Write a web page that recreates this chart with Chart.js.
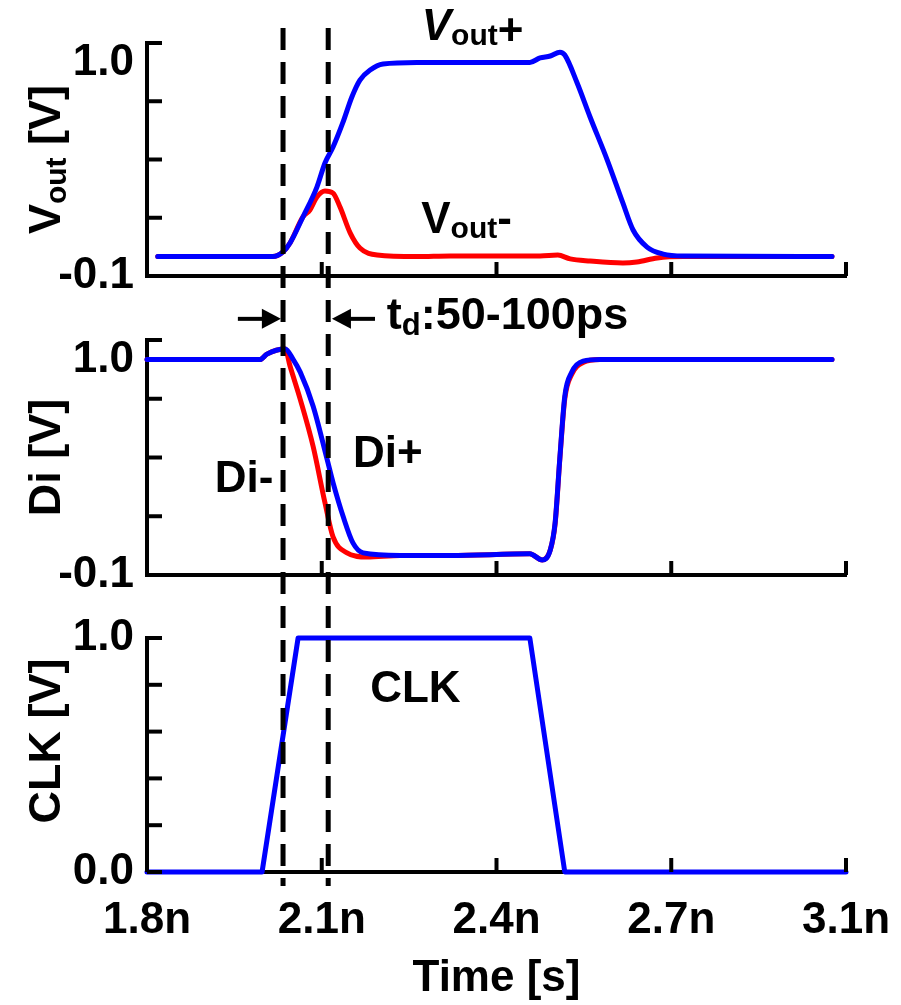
<!DOCTYPE html>
<html>
<head>
<meta charset="utf-8">
<script src="https://cdn.jsdelivr.net/npm/chart.js@4.4.1/dist/chart.umd.min.js"></script>
<style>
  html, body { margin: 0; padding: 0; background: #fff; }
  #wrap { position: relative; width: 901px; height: 1005px; }
  #wrap canvas { position: absolute; left: 0; top: 0; }
</style>
</head>
<body>
<div id="wrap">
  <canvas id="voutChart" width="901" height="1005"></canvas>
  <canvas id="diChart" width="901" height="1005"></canvas>
  <canvas id="clkChart" width="901" height="1005"></canvas>
</div>
<script>
// shared time axis (ns)
const xTickValues = [1.8, 2.125, 2.45, 2.775, 3.1];
const xTickLabels = ['1.8n', '2.1n', '2.4n', '2.7n', '3.1n'];
const markerTimes = [2.053, 2.137];

// Vout panel
const voutPlusT = [1.82, 2.034, 2.053, 2.066, 2.090, 2.116, 2.131, 2.146, 2.164, 2.181, 2.196, 2.215, 2.239, 2.302, 2.364, 2.512, 2.531, 2.550, 2.568, 2.577, 2.600, 2.624, 2.656, 2.685, 2.704, 2.730, 2.760, 2.797, 3.074];
const voutPlusV = [0, 0, 0.024, 0.07, 0.204, 0.358, 0.482, 0.564, 0.688, 0.822, 0.909, 0.961, 0.992, 1.0, 1.0, 1.0, 1.023, 1.033, 1.053, 1.038, 0.894, 0.719, 0.497, 0.276, 0.137, 0.049, 0.013, 0.003, 0];
const voutMinusT = [1.82, 2.034, 2.053, 2.066, 2.090, 2.103, 2.116, 2.131, 2.146, 2.159, 2.178, 2.196, 2.228, 2.302, 2.364, 2.531, 2.564, 2.587, 2.624, 2.685, 2.711, 2.749, 2.797, 3.074];
const voutMinusV = [0, 0, 0.024, 0.07, 0.204, 0.24, 0.307, 0.338, 0.327, 0.255, 0.121, 0.044, 0.008, 0, 0.003, 0.003, 0.008, -0.012, -0.023, -0.033, -0.028, -0.007, 0, 0];
const voutTicks = [-0.1, 0.2, 0.5, 0.8, 1.1];
const voutLabels = [-0.1, 1.0];

// Di panel
const diPlusT = [1.8, 2.010, 2.023, 2.057, 2.072, 2.085, 2.109, 2.135, 2.146, 2.165, 2.183, 2.202, 2.271, 2.364, 2.512, 2.535, 2.550, 2.559, 2.568, 2.577, 2.590, 2.611, 2.643, 3.074];
const diPlusV = [1.0, 1.0, 1.028, 1.054, 1.0, 0.936, 0.762, 0.49, 0.372, 0.197, 0.064, 0.013, 0, 0, 0.008, -0.023, 0.028, 0.167, 0.505, 0.813, 0.936, 0.992, 1.0, 1.0];
const diMinusT = [1.8, 2.010, 2.023, 2.057, 2.066, 2.085, 2.109, 2.131, 2.146, 2.172, 2.209, 2.271, 2.364, 2.512, 2.535, 2.550, 2.559, 2.568, 2.577, 2.590, 2.611, 2.643, 3.074];
const diMinusV = [1.0, 1.0, 1.028, 1.054, 0.967, 0.797, 0.556, 0.269, 0.095, 0.013, -0.008, 0, 0, 0.008, -0.023, 0.028, 0.16, 0.5, 0.80, 0.925, 0.985, 1.0, 1.0];
const diTicks = [-0.1, 0.2, 0.5, 0.8, 1.1];
const diLabels = [-0.1, 1.0];

// CLK panel
const clkT = [1.8, 2.014, 2.081, 2.512, 2.577, 3.1];
const clkV = [0, 0, 1, 1, 0, 0];
const clkTicks = [0, 0.2, 0.4, 0.6, 0.8, 1.0];
const clkLabels = [0, 1.0];

const FONT = '"Liberation Sans", Arial, sans-serif';
Chart.defaults.font.family = FONT;
Chart.defaults.color = '#000';

const pts = (ts, vs) => ts.map((t, i) => ({ x: t, y: vs[i] }));
const charts = [];

// draw a run of text pieces (for subscripts / italics)
function drawRich(ctx, x, y, parts, center) {
  const fontOf = p => (p.italic ? 'italic ' : '') + 'bold ' + p.size + 'px ' + FONT;
  let total = 0;
  parts.forEach(p => { ctx.font = fontOf(p); total += ctx.measureText(p.text).width; });
  let cx = center ? x - total / 2 : x;
  ctx.textBaseline = 'alphabetic';
  ctx.textAlign = 'left';
  parts.forEach(p => {
    ctx.font = fontOf(p);
    ctx.fillText(p.text, cx, y + (p.dy || 0));
    cx += ctx.measureText(p.text).width;
  });
}

function drawArrow(ctx, x0, x1, y) {
  const dir = Math.sign(x1 - x0);
  ctx.beginPath();
  ctx.moveTo(x0, y);
  ctx.lineTo(x1 - dir * 14, y);
  ctx.stroke();
  ctx.beginPath();
  ctx.moveTo(x1, y);
  ctx.lineTo(x1 - dir * 19, y - 10);
  ctx.lineTo(x1 - dir * 19, y + 10);
  ctx.closePath();
  ctx.fill();
}

// inward tick marks, rotated y title, text labels
function panelPlugin(cfg) {
  return {
    id: 'panelDecor',
    afterDraw(chart) {
      const ctx = chart.ctx;
      const xs = chart.scales.x, ys = chart.scales.y;
      const a = chart.chartArea;
      ctx.save();
      ctx.strokeStyle = '#000';
      ctx.fillStyle = '#000';
      ctx.lineWidth = 4;
      xTickValues.forEach(v => {
        const px = xs.getPixelForValue(v);
        ctx.beginPath(); ctx.moveTo(px, a.bottom); ctx.lineTo(px, a.bottom - 14); ctx.stroke();
      });
      cfg.yTicks.forEach(v => {
        const py = ys.getPixelForValue(v);
        ctx.beginPath(); ctx.moveTo(a.left, py); ctx.lineTo(a.left + 15, py); ctx.stroke();
      });

      // y title
      ctx.save();
      ctx.translate(60, (a.top + a.bottom) / 2 + (cfg.titleShift || 0));
      ctx.rotate(-Math.PI / 2);
      drawRich(ctx, 0, 0, cfg.title, true);
      ctx.restore();

      (cfg.notes || []).forEach(n => {
        drawRich(ctx, xs.getPixelForValue(n.t), ys.getPixelForValue(n.v), n.parts, false);
      });
      (cfg.arrows || []).forEach(ar => {
        drawArrow(ctx, xs.getPixelForValue(ar.from), xs.getPixelForValue(ar.to), ys.getPixelForValue(ar.v));
      });

      if (cfg.markers) {
        const top = charts[0] ? charts[0].chartArea.top - 15 : 28;
        ctx.setLineDash([22, 12]);
        ctx.lineWidth = 5;
        markerTimes.forEach(t => {
          const px = xs.getPixelForValue(t);
          ctx.beginPath(); ctx.moveTo(px, top); ctx.lineTo(px, a.bottom + 14); ctx.stroke();
        });
      }
      ctx.restore();
    }
  };
}

function makePanel(id, o) {
  const showX = !!o.showX;
  return new Chart(document.getElementById(id), {
    type: 'line',
    data: { datasets: o.datasets },
    options: {
      responsive: false,
      animation: false,
      events: [],
      layout: { padding: { left: 0, right: 55, top: o.top, bottom: o.bottomPad } },
      elements: { point: { radius: 0 } },
      plugins: { legend: { display: false }, tooltip: { enabled: false } },
      scales: {
        x: {
          type: 'linear', min: 1.8, max: 3.1,
          afterBuildTicks: s => { s.ticks = xTickValues.map(v => ({ value: v })); },
          ticks: {
            display: showX, autoSkip: false, maxRotation: 0, padding: 22,
            font: { size: 44, weight: 'bold' },
            callback: (v, i) => xTickLabels[i]
          },
          grid: { display: false, drawTicks: false },
          border: { display: true, color: '#000', width: 4 },
          title: { display: showX, text: 'Time [s]', padding: 0, font: { size: 44, weight: 'bold' } },
          afterFit: s => {
            s.height = showX ? 133 : 0;
            s.paddingLeft = 0;
            s.paddingRight = 0;
          }
        },
        y: {
          type: 'linear', min: o.min, max: o.max,
          afterBuildTicks: s => { s.ticks = o.labels.map(v => ({ value: v })); },
          ticks: { padding: 13, font: { size: 44, weight: 'bold' }, callback: v => Number(v).toFixed(1) },
          grid: { display: false, drawTicks: false },
          border: { display: true, color: '#000', width: 4 },
          afterFit: s => { s.width = 147; }
        }
      }
    },
    plugins: [panelPlugin(o.decor)]
  });
}

const lineStyle = color => ({
  borderColor: color, borderWidth: 5, pointRadius: 0, fill: false,
  borderCapStyle: 'round', borderJoinStyle: 'round', clip: false
});

charts.push(makePanel('voutChart', {
  top: 43, bottomPad: 729, min: -0.1, max: 1.1, labels: voutLabels,
  datasets: [
    Object.assign({ label: 'Vout+', data: pts(voutPlusT, voutPlusV), cubicInterpolationMode: 'monotone' }, lineStyle('#0000ff')),
    Object.assign({ label: 'Vout-', data: pts(voutMinusT, voutMinusV), cubicInterpolationMode: 'monotone' }, lineStyle('#ff0000'))
  ],
  decor: {
    yTicks: voutTicks,
    title: [{ text: 'V', size: 45 }, { text: 'out', size: 30, dy: 6 }, { text: ' [V]', size: 45 }],
    notes: [
      { t: 2.311, v: 1.115, parts: [{ text: 'V', size: 44, italic: true }, { text: 'out', size: 30, dy: 5 }, { text: '+', size: 44, dy: 5 }] },
      { t: 2.310, v: 0.121, parts: [{ text: 'V', size: 44 }, { text: 'out', size: 30, dy: 5 }, { text: '-', size: 44 }] }
    ]
  }
}));

charts.push(makePanel('diChart', {
  top: 340, bottomPad: 430, min: -0.1, max: 1.1, labels: diLabels,
  datasets: [
    Object.assign({ label: 'Di+', data: pts(diPlusT, diPlusV), cubicInterpolationMode: 'monotone' }, lineStyle('#0000ff')),
    Object.assign({ label: 'Di-', data: pts(diMinusT, diMinusV), cubicInterpolationMode: 'monotone' }, lineStyle('#ff0000'))
  ],
  decor: {
    yTicks: diTicks,
    title: [{ text: 'Di [V]', size: 45 }],
    notes: [
      { t: 2.246, v: 1.156, parts: [{ text: 't', size: 45 }, { text: 'd', size: 31, dy: 6 }, { text: ':50-100ps', size: 45 }] },
      { t: 1.926, v: 0.326, parts: [{ text: 'Di-', size: 44 }] },
      { t: 2.183, v: 0.454, parts: [{ text: 'Di+', size: 44 }] }
    ],
    arrows: [
      { from: 1.969, to: 2.049, v: 1.208 },
      { from: 2.224, to: 2.144, v: 1.208 }
    ]
  }
}));

charts.push(makePanel('clkChart', {
  top: 638, bottomPad: 0, min: 0, max: 1.0, labels: clkLabels, showX: true,
  datasets: [
    Object.assign({ label: 'CLK', data: pts(clkT, clkV), tension: 0 }, lineStyle('#0000ff'))
  ],
  decor: {
    yTicks: clkTicks,
    titleShift: -14,
    title: [{ text: 'CLK [V]', size: 45 }],
    notes: [{ t: 2.215, v: 0.726, parts: [{ text: 'CLK', size: 44 }] }],
    markers: true
  }
}));
</script>
</body>
</html>
